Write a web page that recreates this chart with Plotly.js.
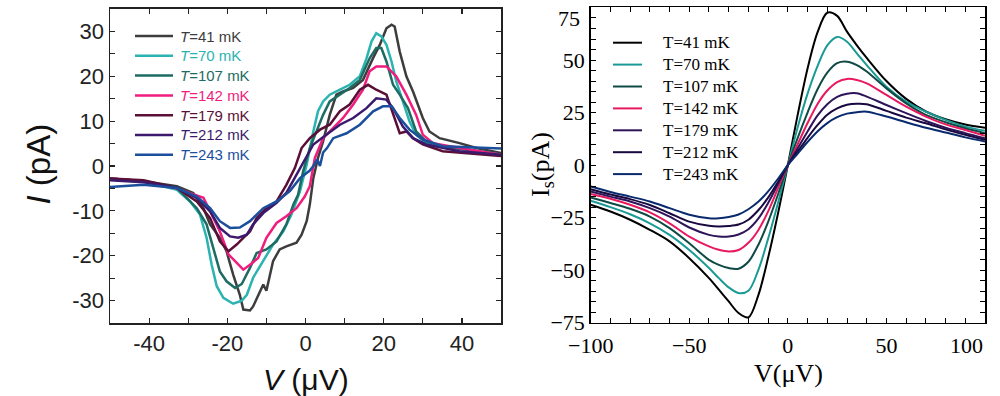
<!DOCTYPE html>
<html><head><meta charset="utf-8">
<script src="https://cdn.plot.ly/plotly-3.0.1.min.js"></script>
<style>html,body{margin:0;padding:0;background:#fff}#chart{width:1000px;height:396px}</style>
</head><body><div id="chart"></div>
<script>
// ---- Left panel: measured I(V) ----
const labelsLeft = ['<i>T</i>=41 mK','<i>T</i>=70 mK','<i>T</i>=107 mK','<i>T</i>=142 mK','<i>T</i>=179 mK','<i>T</i>=212 mK','<i>T</i>=243 mK'];
const colorsLeft = ['#3d3d3d','#2bb3b1','#1d6b62','#f01d7f','#5b0f36','#3b1a6e','#1b4f9c'];

const V41 = [-50,-41.4,-32.9,-28.7,-26.1,-24.4,-21.9,-20.2,-18.5,-16.8,-15.9,-14.2,-13.4,-12.1,-10.8,-10,-8.3,-6.6,-4.9,-2.3,-1,0.3,1.1,2,3.2,4.5,6.2,7.9,9.6,12.2,14.7,17.3,19,20.7,22,22.8,24.1,25.8,27.5,30,31.7,34.3,39.4,43.7,50];
const I41 = [-2.8,-3.4,-4.5,-6,-9.4,-13,-16,-19,-24.2,-28.7,-32,-32.2,-31.3,-28.7,-26.4,-27.8,-21.2,-18.6,-17.9,-17.1,-15.3,-12.3,-8.6,-2.7,1.8,5.5,11.4,15.9,16.6,17.4,19.2,24.1,27,30.7,31.5,31.1,25.5,20,16.6,10.7,7.7,6.2,5.1,4,2.9];

const V70 = [-50,-41.4,-32.9,-29.5,-27,-25.3,-24,-22.7,-21,-18.5,-16.3,-15,-13.4,-10.8,-8.3,-5.7,-3.6,-1.4,0.3,2,3.2,4.5,6.2,8.8,11.3,13.9,15.6,16.9,18.1,19.4,20.7,22,23.2,24.9,26.6,28.3,30.9,35.1,43.7,50];
const I70 = [-2.8,-3.4,-5.3,-7.9,-10.8,-16,-22,-26.8,-29.4,-30.7,-30,-28.7,-24.9,-21.2,-17.5,-14.6,-10.8,-5.6,0.3,7.7,12.2,14.4,15.9,17,18.1,20,24,27.8,29.6,28.9,27,23.3,18.9,14.4,9.9,7,5.1,4.4,3.4,2.5];

const V107 = [-50,-41.4,-32.9,-27.8,-25.3,-23.6,-21.9,-20.2,-18,-16.3,-14.2,-12.5,-10,-7.4,-4.9,-3.1,-1.9,-0.6,1.1,2.8,4.5,6.2,8.8,11.3,13.9,16.4,18.1,19.4,20.7,22.4,24.1,26.2,28.3,30.9,35.1,50];
const I107 = [-2.8,-3.4,-4.9,-9.4,-13,-18.3,-23.5,-25.7,-27.2,-26.3,-22.7,-19.4,-18.6,-16.8,-13,-8.6,-6.4,-1.2,4,7.7,11.4,14.4,15.9,17.4,19.2,24,26.3,26.3,23.3,18.1,15.9,12.9,7.7,5.5,4.4,2.5];

const V142 = [-50,-41.4,-32.9,-26.1,-24.4,-21.9,-19.7,-17.6,-15.9,-14.2,-12.1,-10,-7.4,-4.9,-2.3,-0.2,1.1,2.4,4.5,7.1,9.6,12.2,14.7,16.4,18.1,20.7,23.2,25.8,28.3,30,32.6,39.4,50];
const I142 = [-2.8,-3.4,-5,-7.1,-10.1,-14.6,-19.7,-21.6,-23.1,-22,-20.5,-16,-12.7,-11.2,-9.4,-6.8,-4.5,1.8,6.2,8.5,10.7,13.7,17,21.1,22.2,22.2,20,15.9,11.4,7,5.1,4,2.5];

const V179 = [-50,-41.4,-32.9,-27.8,-24.4,-21.9,-19.7,-17.6,-15.9,-14.2,-12.5,-10,-7.4,-4.9,-2.7,-1,1.1,3.7,6.2,8.8,11.3,13.9,16,18.1,20.7,22.4,24.1,25.8,27.5,30,35.1,50];
const I179 = [-2.8,-3.2,-4.9,-7.9,-11.6,-16.8,-19,-17.5,-16,-14.6,-11.6,-9.4,-7.9,-4.2,-0.4,4,6.2,8.1,9.2,12.2,13.7,17,18.1,17,15.9,11.4,7.3,7.7,6.2,4.8,3.3,2.2];

const V212 = [-50,-41.4,-32.9,-27.8,-24.4,-21.9,-19.3,-17.2,-15,-13.4,-10.8,-7.4,-4.9,-2.3,-0.6,2,5.4,8.8,12.2,15.6,18.1,20.7,22.4,24.9,27.5,30.9,39.4,50];
const I212 = [-3.2,-3.6,-4.9,-7.1,-10.1,-13.8,-15.7,-16,-15.3,-13,-10.5,-8.2,-6,-1.9,1,4.8,7,9.2,10.7,12.9,15.1,14.8,12.9,8.8,6.2,4.8,3.3,2.5];

const V243 = [-50,-41.4,-32.9,-27.8,-24.4,-21.9,-19.3,-16.8,-14.2,-10.8,-7.4,-4,-1.4,1.1,2,3,3.7,4.5,5.5,7.1,10.5,13.9,17.3,19.8,22,24.1,26.6,30,35.1,50];
const I243 = [-4.7,-4.2,-4.9,-6.8,-9.4,-12.3,-13.8,-13.7,-12.3,-9.4,-7.9,-5.6,-2.7,-1,0,1.5,0,3,4,6.2,7.3,9.2,12.2,13.3,13.3,10.7,8.1,5.9,4.4,3.9];

const leftX = [V41,V70,V107,V142,V179,V212,V243];
const leftY = [I41,I70,I107,I142,I179,I212,I243];

// ---- Right panel: calculated Is(V) ----
const labelsRight = ['T=41 mK','T=70 mK','T=107 mK','T=142 mK','T=179 mK','T=212 mK','T=243 mK'];
const colorsRight = ['#000000','#1a9a96','#0f4a45','#e8195f','#2e1459','#1a0840','#0a2a6e'];
const Vcalc = [-100,-90,-80,-70,-60,-50,-40,-35,-30,-25,-20,-15,-10,-5,0,5,10,15,20,25,30,35,40,50,60,70,80,90,100];
const S41  = [-18.9,-22.1,-26,-30.8,-36.3,-44.3,-53.8,-59.3,-64.9,-70.4,-72.5,-62,-44,-23,0,24,46,63,72.5,71,63.5,57,51,40,31.5,25.5,21.8,19.3,17.8];
const S70  = [-17,-20,-23.4,-27.7,-33.2,-40.4,-49,-53.8,-58.2,-60.9,-59.8,-50,-35,-18,0,18,34,47,57,61,58.7,53.2,47.6,37.3,30.2,25.4,21.5,18.3,16.3];
const S107 = [-15.4,-18,-20.8,-24.5,-30,-37.2,-45.1,-47.5,-49,-49.3,-46,-38,-27,-14,0,13,25,36,44,48.5,49.2,47.6,44.5,36.5,29.4,23.9,20.4,17.5,15.2];
const S142 = [-13.8,-16,-18.9,-22.5,-27.7,-34,-38.7,-40.3,-41.1,-40.4,-37,-31,-22,-11,0,10,20,29,35.5,39.5,41,40.5,38.9,33.4,27.8,23.1,19.4,16.7,14];
const S179 = [-12.6,-15,-17.3,-20.5,-24.5,-29.7,-33.2,-34,-34,-33,-30.5,-25.5,-18,-9,0,8,16,23.5,29,32.5,34,34.2,32.6,28.6,24.7,21,17.8,15.2,12.8];
const S212 = [-11.5,-14,-16.2,-19,-22.9,-26.9,-28.9,-29.2,-29,-28.3,-26,-21.5,-15.5,-8,0,6.5,13,19,24,27,28.7,29.2,29,25.8,22.6,19.9,17,14.4,12];
const S243 = [-10.2,-12.8,-15,-17.3,-20.5,-23.6,-25.3,-25.3,-24.7,-23.5,-21,-17.5,-12.5,-6.5,0,5.5,11,16,20,22.8,24.5,25.2,25.4,23.1,20.4,17.8,15.5,13.2,11.2];
const rightY = [S41,S70,S107,S142,S179,S212,S243];

// ---- tick arrays ----
const leftXTicks = [-40,-30,-20,-10,0,10,20,30,40];
const leftXText  = ['-40','','-20','','0','','20','','40'];
const leftYTicks = [-30,-25,-20,-15,-10,-5,0,5,10,15,20,25,30];
const leftYText  = ['-30','','-20','','-10','','0','','10','','20','','30'];
const rightXTicks = [-100,-90,-80,-70,-60,-50,-40,-30,-20,-10,0,10,20,30,40,50,60,70,80,90];
const rightXText  = ['\u2212100','','','','','\u221250','','','','','0','','','','','50','','','',''];
const rightYTicks = [-75,-70,-65,-60,-55,-50,-45,-40,-35,-30,-25,-20,-15,-10,-5,0,5,10,15,20,25,30,35,40,45,50,55,60,65,70];
const rightYText  = rightYTicks.map(v => (v % 25 === 0) ? (v < 0 ? '\u2212' + Math.abs(v) : String(v)) : '');

const W = 1000, H = 396;
const px = v => v / W, py = v => 1 - v / H;

const traces = [];
for (let i = 0; i < 7; i++) {
  traces.push({
    x: leftX[i], y: leftY[i], type: 'scatter', mode: 'lines', name: labelsLeft[i], showlegend: false,
    line: {color: colorsLeft[i], width: 2.5}, xaxis: 'x', yaxis: 'y'
  });
}
for (let i = 0; i < 7; i++) {
  traces.push({
    x: Vcalc, y: rightY[i], type: 'scatter', mode: 'lines', name: labelsRight[i], showlegend: false,
    line: {color: colorsRight[i], width: 2, shape: 'spline', smoothing: 0.9}, xaxis: 'x2', yaxis: 'y2'
  });
}

const sansTick = {family: 'Liberation Sans, Arial, sans-serif', size: 22, color: '#222'};
const serifTick = {family: 'Liberation Serif, Times New Roman, serif', size: 22, color: '#000'};

// legends drawn as line samples + texts
const shapes = [];
const annotations = [];
for (let i = 0; i < 7; i++) {
  const yl = 36 + 19.8 * i;
  shapes.push({type: 'line', xref: 'paper', yref: 'paper', x0: px(135), x1: px(173), y0: py(yl), y1: py(yl),
               line: {color: colorsLeft[i], width: 2.5}});
  annotations.push({xref: 'paper', yref: 'paper', x: px(178), y: py(yl), xanchor: 'left', yanchor: 'middle',
               text: labelsLeft[i], showarrow: false,
               font: {family: 'Liberation Sans, Arial, sans-serif', size: 15, color: colorsLeft[i]}});
  const yr = 42.7 + 21.9 * i;
  shapes.push({type: 'line', xref: 'paper', yref: 'paper', x0: px(613), x1: px(642), y0: py(yr), y1: py(yr),
               line: {color: colorsRight[i], width: 2}});
  annotations.push({xref: 'paper', yref: 'paper', x: px(661), y: py(yr), xanchor: 'left', yanchor: 'middle',
               text: labelsRight[i], showarrow: false,
               font: {family: 'Liberation Serif, Times New Roman, serif', size: 17, color: '#000'}});
}
annotations.push(
  {xref: 'paper', yref: 'paper', x: px(37.5), y: py(164), xanchor: 'center', yanchor: 'middle', text: '<i>I</i> (pA)',
   textangle: -90, showarrow: false, font: {family: 'Liberation Sans, Arial, sans-serif', size: 33, color: '#111'}},
  {xref: 'paper', yref: 'paper', x: px(305.7), y: py(379), xanchor: 'center', yanchor: 'middle', text: '<i>V</i> (\u03bcV)',
   showarrow: false, font: {family: 'Liberation Sans, Arial, sans-serif', size: 30, color: '#111'}},
  {xref: 'paper', yref: 'paper', x: px(541.5), y: py(164.5), xanchor: 'center', yanchor: 'middle', text: 'I<sub>s</sub>(pA)',
   textangle: -90, showarrow: false, font: {family: 'Liberation Serif, Times New Roman, serif', size: 26, color: '#000'}},
  {xref: 'paper', yref: 'paper', x: px(788), y: py(373), xanchor: 'center', yanchor: 'middle', text: 'V(\u03bcV)',
   showarrow: false, font: {family: 'Liberation Serif, Times New Roman, serif', size: 26, color: '#000'}},
  {xref: 'paper', yref: 'y2', x: px(582), y: 75, xanchor: 'right', yanchor: 'top', yshift: 3, text: '75', showarrow: false, font: serifTick},
  {xref: 'x2', yref: 'paper', x: 100, y: py(345), xanchor: 'right', yanchor: 'middle', text: '100', showarrow: false, font: serifTick}
);

const layout = {
  width: W, height: H,
  margin: {l: 0, r: 0, t: 0, b: 0},
  paper_bgcolor: '#fff', plot_bgcolor: '#fff',
  showlegend: false,
  xaxis: {domain: [0.11, 0.501], range: [-50, 50], tickmode: 'array', tickvals: leftXTicks, ticktext: leftXText,
          ticks: 'inside', ticklen: 5, tickwidth: 1.2, tickcolor: '#222', showline: true, mirror: 'ticks',
          linecolor: '#222', linewidth: 1.5, zeroline: false, showgrid: false, tickfont: sansTick, anchor: 'y'},
  yaxis: {domain: [0.1843, 0.9773], range: [-35, 35], tickmode: 'array', tickvals: leftYTicks, ticktext: leftYText,
          ticks: 'inside', ticklen: 5, tickwidth: 1.2, tickcolor: '#222', showline: true, mirror: 'ticks',
          linecolor: '#222', linewidth: 1.5, zeroline: false, showgrid: false, tickfont: sansTick, anchor: 'x'},
  xaxis2: {domain: [0.5907, 0.985], range: [-100, 100], tickmode: 'array', tickvals: rightXTicks, ticktext: rightXText,
          ticks: 'inside', ticklen: 5, tickwidth: 1, tickcolor: '#000', showline: true, mirror: 'ticks',
          linecolor: '#000', linewidth: 1.5, zeroline: false, showgrid: false, tickfont: serifTick, anchor: 'y2',
          ticklabelstandoff: 2},
  yaxis2: {domain: [0.1851, 0.9811], range: [-75, 75], tickmode: 'array', tickvals: rightYTicks, ticktext: rightYText,
          ticks: 'inside', ticklen: 5, tickwidth: 1, tickcolor: '#000', showline: true, mirror: 'ticks',
          linecolor: '#000', linewidth: 1.5, zeroline: false, showgrid: false, tickfont: serifTick, anchor: 'x2'},
  shapes: shapes,
  annotations: annotations
};

Plotly.newPlot('chart', traces, layout, {displayModeBar: false, staticPlot: true});
</script>
</body></html>
